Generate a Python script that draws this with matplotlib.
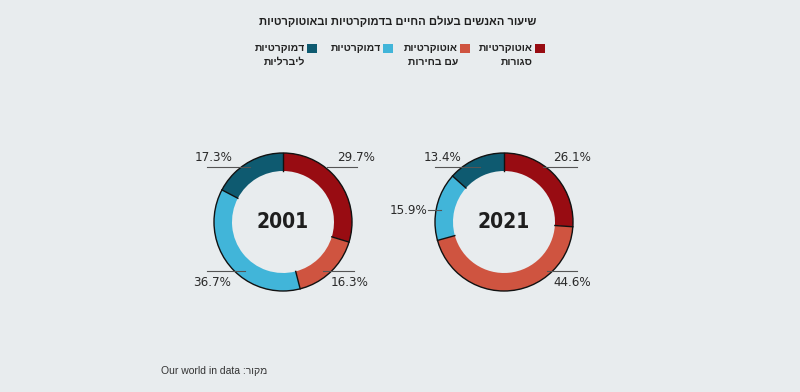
import matplotlib.pyplot as plt
from matplotlib import patches
import numpy as np

W, H = 800, 392

# data
categories = ["אוטוקרטיות\nסגורות", "אוטוקרטיות\nעם בחירות", "דמוקרטיות", "דמוקרטיות\nליברליות"]
colors = ["#980c12", "#cf5440", "#41b5d9", "#0e5a70"]
years = ["2001", "2021"]
shares_2001 = [29.7, 16.3, 36.7, 17.3]
shares_2021 = [26.1, 44.6, 15.9, 13.4]

title = "שיעור האנשים בעולם החיים בדמוקרטיות ובאוטוקרטיות"
source_label = "מקור:"
source_name = "Our world in data"

BG = "#e8ecee"
NUM_FONT = ["DejaVu Sans"]
HEB_FONT = ["Liberation Sans", "DejaVu Sans"]


def heb(s):
    # matplotlib has no bidi support: draw hebrew in visual order
    return "\n".join(line[::-1] for line in s.split("\n"))


def Y(ypix):
    return H - ypix


# layout: donut centres, radii, label placement (pixels from top-left)
centres = [(283, 222), (504, 222)]
r_out, r_in = 69, 51
# per chart, per wedge: (text x, text y, align, line x0, line x1, line y)
label_pos = [
    [(337, 157, "left", 327, 357, 167), (331, 283, "left", 323, 354, 271),
     (231, 283, "right", 207, 245, 271), (233, 157, "right", 207, 250, 167)],
    [(553, 157, "left", 543, 577, 167), (553, 283, "left", 547, 577, 271),
     (427, 210, "right", 428, 441, 210), (461, 157, "right", 435, 480, 167)],
]

fig = plt.figure(figsize=(W / 100, H / 100), dpi=100, facecolor=BG)
ax = fig.add_axes([0, 0, 1, 1])
ax.set_facecolor(BG)

for k, (year, shares) in enumerate(zip(years, [shares_2001, shares_2021])):
    cx, cy = centres[k]
    wedges, _ = ax.pie(shares, colors=colors, startangle=90, counterclock=False,
                       center=(cx, Y(cy)), radius=r_out,
                       wedgeprops=dict(width=r_out - r_in, edgecolor="none"))
    # separators between segments
    for w in wedges:
        a = np.deg2rad(w.theta1)
        ax.plot([cx + r_in * np.cos(a), cx + r_out * np.cos(a)],
                [Y(cy) + r_in * np.sin(a), Y(cy) + r_out * np.sin(a)],
                color="#111111", lw=1.0, zorder=3)
    ax.add_patch(patches.Circle((cx, Y(cy)), r_out, fill=False,
                                edgecolor="#111111", lw=1.0, zorder=3))
    ax.text(cx, Y(cy), year, ha="center", va="center", fontsize=15,
            fontweight="bold", fontstretch="condensed", family=NUM_FONT,
            color="#1e1e1e", zorder=4)
    for v, (tx, ty, ha, lx0, lx1, ly) in zip(shares, label_pos[k]):
        ax.plot([lx0, lx1], [Y(ly), Y(ly)], color="#555555", lw=0.8, zorder=4)
        ax.text(tx, Y(ty), f"{v:.1f}%", ha=ha, va="center", fontsize=9.5,
                fontstretch="condensed", family=NUM_FONT, color="#2a2a2a", zorder=5)

# title
ax.text(398, Y(21), heb(title), ha="center", va="center", fontsize=8,
        fontweight="bold", family=HEB_FONT, color="#1e1e1e")

# legend (right to left)
sq_x = [535, 460, 383, 307]
for x, lab, c in zip(sq_x, categories, colors):
    ax.add_patch(patches.Rectangle((x, Y(53)), 10, 9, facecolor=c, edgecolor="none"))
    ax.text(x - 2, Y(43), heb(lab), ha="right", va="top", fontsize=7.5,
            fontweight="bold", family=HEB_FONT, color="#222222",
            multialignment="right", linespacing=1.45)

# source
ax.text(267, Y(371), source_name + " " + heb(source_label), ha="right",
        va="center", fontsize=7.5, family=HEB_FONT, color="#333333")

ax.set_xlim(0, W)
ax.set_ylim(0, H)
ax.set_aspect("equal")
ax.axis("off")

fig.savefig("out.png", dpi=100, facecolor=BG)
